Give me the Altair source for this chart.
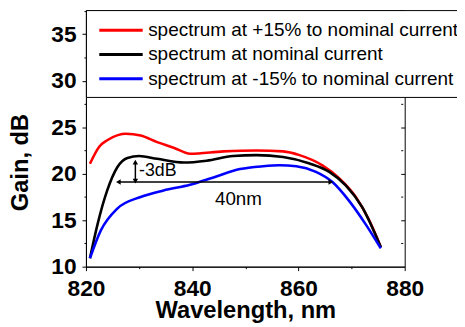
import altair as alt
import pandas as pd

# ---- data ----
series_names = [
    "spectrum at +15% to nominal current",
    "spectrum at nominal current",
    "spectrum at -15% to nominal current",
]
series_colors = ["#ff0000", "#000000", "#0000ff"]

wl_plus = [820.75, 822.5, 824.0, 826.0, 827.5, 830.3, 833.4, 836.5, 839.6, 845.9,
           852.1, 857.1, 860.2, 864.5, 867.7, 870.8, 873.3, 875.5]
gain_plus = [21.07, 22.9, 23.6, 24.15, 24.3, 24.1, 23.4, 22.8, 22.15, 22.4,
             22.5, 22.4, 22.0, 20.9, 19.5, 17.5, 15.0, 12.1]

wl_nom = [820.75, 822.2, 824.0, 825.9, 827.8, 830.0, 833.4, 838.4, 842.7, 847.7,
          852.1, 857.1, 862.1, 865.8, 868.9, 872.0, 875.5]
gain_nom = [10.9, 14.6, 18.2, 20.7, 21.7, 21.9, 21.6, 21.2, 21.4, 21.9,
            22.0, 21.8, 21.1, 20.2, 18.75, 16.4, 12.1]

wl_minus = [820.75, 822.8, 825.9, 830.3, 834.6, 839.6, 844.0, 849.0, 853.3, 856.4,
            859.6, 863.3, 866.4, 869.5, 872.6, 875.5]
gain_minus = [10.9, 13.9, 16.25, 17.5, 18.2, 18.8, 19.6, 20.5, 20.8, 20.9,
              20.8, 20.2, 19.1, 17.1, 14.6, 11.96]

# annotation arrows: (x1, x2, y1, y2)
arrow_x1 = [826.1, 829.3]
arrow_x2 = [866.1, 829.3]
arrow_y1 = [19.1, 19.2]
arrow_y2 = [19.1, 21.25]
head_x = [826.1, 866.1, 829.3, 829.3]
head_y = [19.1, 19.1, 21.25, 19.2]
head_shape = ["triangle-left", "triangle-right", "triangle-up", "triangle-down"]

db_text, db_x, db_y = ["-3dB"], [830.0], [20.3]
nm_text, nm_x, nm_y = ["40nm"], [848.7], [17.3]

x_ticks = [820, 830, 840, 850, 860, 870, 880]
y_ticks = [10, 12.5, 15, 17.5, 20, 22.5, 25, 27.5, 30, 32.5, 35, 37.5]
y_ticks_right = [12.5, 15, 17.5, 20, 22.5, 25, 27.5]

# ---- tables ----
rows = []
for name, wls, gs in zip(series_names, [wl_plus, wl_nom, wl_minus],
                         [gain_plus, gain_nom, gain_minus]):
    for w, g in zip(wls, gs):
        rows.append({"wl": w, "gain": g, "series": name})
curves = pd.DataFrame(rows)
arrows = pd.DataFrame({"wl": arrow_x1, "wl2": arrow_x2, "gain": arrow_y1, "gain2": arrow_y2})
heads = pd.DataFrame({"wl": head_x, "gain": head_y, "shape": head_shape})
db_df = pd.DataFrame({"wl": db_x, "gain": db_y, "text": db_text})
nm_df = pd.DataFrame({"wl": nm_x, "gain": nm_y, "text": nm_text})

FONT = "Liberation Sans"
xscale = alt.Scale(domain=[820, 880], nice=False, zero=False)
yscale = alt.Scale(domain=[10, 37.6], nice=False, zero=False)

x_axis = alt.Axis(
    values=x_ticks,
    labelExpr="datum.value % 20 === 0 ? datum.label : ''",
    tickSize={"condition": {"test": "datum.value % 20 === 0", "value": 4}, "value": 2},
    title="Wavelength, nm",
    titleY=52, titleBaseline="alphabetic",
    labelPadding=7, labelFlush=False, labelOverlap=False,
)
y_axis = alt.Axis(
    values=y_ticks,
    labelExpr="datum.value % 5 === 0 ? datum.label : ''",
    tickSize={"condition": {"test": "datum.value % 5 === 0", "value": 4}, "value": 2},
    title="Gain, dB",
    titleX=-59, titleY=154, titleAngle=270, titleBaseline="alphabetic", titleAlign="center",
    labelPadding=6, labelFlush=False, labelOverlap=False,
)
y_axis_right = alt.Axis(
    orient="right", values=y_ticks_right, labels=False, domain=False,
    tickSize={"condition": {"test": "datum.value % 5 === 0", "value": 4}, "value": 2},
    offset=-4, title=None,
)


def xenc():
    return alt.X("wl:Q", scale=xscale, axis=x_axis)


lines = alt.Chart(curves).mark_line(strokeWidth=2.6, interpolate="monotone").encode(
    x=xenc(),
    y=alt.Y("gain:Q", scale=yscale, axis=y_axis),
    color=alt.Color(
        "series:N",
        scale=alt.Scale(domain=series_names, range=series_colors),
        sort=series_names,
        legend=alt.Legend(
            title=None, orient="none", legendX=0, legendY=0,
            fillColor="white", strokeColor="black", padding=8,
            symbolType="M-2,0H2", symbolSize=484, symbolStrokeWidth=3,
            symbolOffset=15, labelOffset=15, labelFontSize=19.2, labelFont=FONT,
            labelColor="black", rowPadding=1.5, labelLimit=0,
        ),
    ),
)

rules = alt.Chart(arrows).mark_rule(color="black", strokeWidth=1.5).encode(
    x=xenc(),
    x2="wl2:Q",
    y=alt.Y("gain:Q", scale=yscale, axis=y_axis_right),
    y2="gain2:Q",
)

arrowheads = alt.Chart(heads).mark_point(filled=True, color="black", size=30, opacity=1).encode(
    x=xenc(),
    y=alt.Y("gain:Q", scale=yscale, axis=None),
    shape=alt.Shape("shape:N", scale=None, legend=None),
)

db_label = alt.Chart(db_df).mark_text(font=FONT, fontSize=18, color="black",
                                      baseline="middle", align="left").encode(
    x=xenc(),
    y=alt.Y("gain:Q", scale=yscale, axis=None),
    text="text:N",
)
nm_label = alt.Chart(nm_df).mark_text(font=FONT, fontSize=19, color="black",
                                      baseline="middle", align="center").encode(
    x=xenc(),
    y=alt.Y("gain:Q", scale=yscale, axis=None),
    text="text:N",
)

chart = alt.layer(lines, rules, arrowheads, db_label, nm_label).resolve_axis(y="independent").properties(
    width=323, height=260,
    autosize=alt.AutoSizeParams(type="none"),
    padding={"left": 79, "top": 0, "right": 53, "bottom": 58},
    background="white",
).configure_view(stroke="black", strokeWidth=1).configure_axis(
    grid=False, domainColor="black", tickColor="black", domainWidth=1, tickWidth=1,
    labelFont=FONT, labelFontSize=23, labelFontWeight="bold", labelColor="black",
    titleFont=FONT, titleFontSize=24, titleFontWeight="bold", titleColor="black",
)

chart.save("out.html", embed_options={"renderer": "svg", "actions": False})
